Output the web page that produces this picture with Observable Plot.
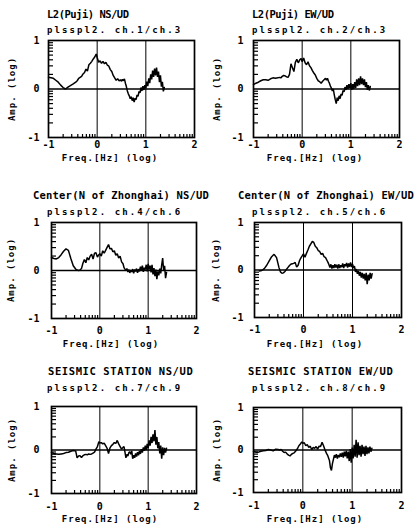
<!DOCTYPE html>
<html><head><meta charset="utf-8">
<script src="https://cdn.jsdelivr.net/npm/d3@7"></script>
<script src="https://cdn.jsdelivr.net/npm/@observablehq/plot@0.6"></script>
<style>
body{margin:0;background:#fff;}
#root{position:relative;width:415px;height:524px;overflow:hidden;background:#fff;font-family:"DejaVu Sans Mono",monospace;color:#000;}
.t{position:absolute;white-space:nowrap;line-height:1;}
.title{font-weight:bold;font-size:10.5px;transform:translateY(-50%);}
.sub{font-size:9px;letter-spacing:2.1px;font-weight:bold;transform:translateY(-50%);}
.xl{font-size:9px;letter-spacing:1px;font-weight:bold;transform:translate(-50%,-50%);}
.yl{font-size:9px;letter-spacing:1px;font-weight:bold;transform:translate(-50%,-50%) rotate(-90deg);}
#root svg{position:absolute;}
</style></head><body><div id="root"></div>
<script>
// log10 frequency sampling positions
const freq = [-1.00,-0.95,-0.90,-0.85,-0.80,-0.75,-0.70,-0.65,-0.60,-0.55,-0.50,
-0.47,-0.44,-0.41,-0.38,-0.35,-0.32,-0.29,-0.26,-0.23,-0.20,-0.17,-0.14,-0.11,-0.08,-0.05,-0.02,
0.00,0.03,0.06,0.09,0.12,0.15,0.18,0.21,0.24,0.27,0.30,0.33,0.36,0.39,0.42,0.45,0.48,
0.50,0.52,0.54,0.56,0.58,0.60,0.62,0.64,0.66,0.68,0.70,0.72,0.74,0.76,0.78,0.80,0.82,0.84,0.86,0.88,0.90,0.92,0.94,0.96,0.98,
1.00,1.02,1.04,1.06,1.08,1.10,1.12,1.14,1.16,1.18,1.20,1.22,1.24,1.26,1.28,1.30,1.32,1.34,1.36,1.38,1.40];

// log10 H/V amplitude ratios
const ampL2NS = [0.24,0.23,0.22,0.18,0.14,0.08,0.03,0.00,0.04,0.07,0.10,
0.12,0.14,0.17,0.22,0.24,0.26,0.31,0.34,0.41,0.37,0.50,0.53,0.57,0.62,0.66,0.72,
0.65,0.55,0.58,0.53,0.57,0.52,0.55,0.49,0.47,0.40,0.36,0.28,0.23,0.18,0.21,0.17,0.19,
0.16,0.20,0.17,0.21,0.12,0.05,-0.04,-0.10,-0.14,-0.20,-0.16,-0.24,-0.18,-0.27,-0.19,-0.22,-0.12,-0.15,-0.05,-0.08,0.03,-0.04,0.06,-0.02,0.08,
0.02,0.15,0.06,0.22,0.12,0.30,0.20,0.38,0.25,0.42,0.28,0.44,0.25,0.36,0.14,0.28,0.05,0.15,-0.05,0.03,null];

const ampL2EW = [0.09,0.12,0.14,0.17,0.19,0.19,0.18,0.21,0.23,0.22,0.23,
0.24,0.23,0.26,0.28,0.27,0.25,0.24,0.30,0.52,0.44,0.36,0.55,0.61,0.54,0.60,0.63,
0.56,0.64,0.54,0.50,0.56,0.48,0.44,0.38,0.33,0.29,0.22,0.17,0.15,0.12,0.16,0.19,0.22,
0.18,0.22,0.16,0.12,0.06,0.02,-0.04,0.00,-0.12,-0.22,-0.30,-0.18,-0.24,-0.14,-0.20,-0.10,-0.13,-0.03,-0.06,0.04,-0.02,0.08,0.00,0.10,0.02,
0.12,-0.02,0.10,0.00,0.14,0.02,0.20,0.06,0.22,0.08,0.26,0.10,0.22,0.08,0.20,0.04,0.14,-0.02,0.08,-0.03,0.05];

const ampCenterNS = [0.27,0.25,0.24,0.27,0.33,0.40,0.45,0.42,0.25,0.10,0.03,
0.01,0.00,0.01,0.04,0.15,0.23,0.16,0.27,0.22,0.30,0.34,0.24,0.36,0.37,0.28,0.33,
0.35,0.30,0.41,0.36,0.42,0.48,0.54,0.45,0.46,0.39,0.41,0.32,0.35,0.26,0.30,0.18,0.14,
0.06,0.03,0.00,0.04,-0.03,0.02,-0.05,0.01,-0.03,0.03,-0.06,0.02,-0.02,0.04,-0.05,0.03,-0.02,0.08,0.00,0.10,-0.03,0.06,0.02,0.12,-0.02,
0.14,0.02,0.10,-0.04,0.12,-0.08,0.05,-0.12,0.02,-0.18,-0.02,-0.10,0.04,-0.06,0.12,0.26,0.00,0.10,-0.16,-0.04,null];

const ampCenterEW = [null,null,-0.02,-0.01,0.03,0.10,0.19,0.28,0.33,0.26,0.05,
-0.04,-0.07,-0.06,-0.03,0.01,0.05,0.09,0.12,0.13,0.14,0.16,0.06,0.10,0.20,0.26,0.31,
0.34,0.27,0.35,0.42,0.50,0.55,0.60,0.58,0.50,0.47,0.41,0.39,0.33,0.35,0.28,0.26,0.20,
0.16,0.11,0.05,0.12,0.03,0.10,0.04,0.12,0.05,0.11,0.03,0.12,0.04,0.10,0.06,0.14,0.04,0.12,0.08,0.15,0.05,0.14,0.07,0.16,0.06,
0.13,0.04,0.08,-0.04,0.02,-0.08,-0.02,-0.12,-0.04,-0.16,-0.06,-0.18,-0.08,-0.22,-0.06,-0.30,-0.10,-0.22,-0.06,-0.18,-0.08];

const ampSeisNS = [-0.06,-0.08,-0.09,-0.10,-0.09,-0.08,-0.06,-0.05,-0.03,-0.01,-0.02,
-0.18,-0.14,-0.13,-0.17,-0.13,-0.11,-0.10,-0.11,-0.09,-0.10,-0.09,-0.07,-0.05,0.02,0.08,0.19,
0.16,0.17,0.14,0.16,0.10,0.04,-0.08,0.05,0.10,0.13,0.17,0.15,0.22,0.14,0.08,0.02,0.06,
0.08,-0.05,-0.18,-0.10,-0.14,-0.06,-0.04,-0.10,-0.02,-0.20,-0.12,-0.18,-0.08,-0.15,-0.05,-0.12,-0.02,-0.09,0.02,-0.06,0.06,-0.02,0.10,0.00,0.14,
0.04,0.22,0.10,0.30,0.16,0.36,0.20,0.46,0.12,0.30,0.04,0.18,-0.08,0.10,-0.20,0.06,-0.12,0.05,-0.06,0.04,null];

const ampSeisEW = [-0.03,-0.05,-0.05,-0.03,-0.02,-0.01,0.01,0.00,-0.02,0.02,0.01,
0.00,0.01,-0.03,-0.06,-0.05,-0.09,-0.12,-0.14,-0.10,-0.08,-0.06,-0.02,0.03,0.10,0.14,0.19,
0.16,0.17,0.10,0.13,0.06,0.09,0.01,0.06,0.04,0.08,0.02,0.09,0.08,0.18,0.10,0.00,-0.08,
-0.12,-0.18,-0.25,-0.42,-0.48,-0.32,-0.22,-0.12,-0.18,-0.10,-0.20,-0.12,-0.17,-0.08,-0.16,-0.06,-0.18,-0.04,-0.15,-0.02,-0.20,-0.04,-0.26,0.02,-0.30,
0.06,-0.20,0.12,-0.16,0.24,-0.18,0.18,-0.12,0.10,-0.16,0.12,-0.10,0.08,-0.14,0.10,-0.10,0.06,-0.08,0.08,-0.04,0.04];

const titles = ["L2(Puji) NS/UD","L2(Puji) EW/UD","Center(N of Zhonghai) NS/UD","Center(N of Zhonghai) EW/UD","SEISMIC STATION NS/UD","SEISMIC STATION EW/UD"];
const subtitles = ["plsspl2. ch.1/ch.3","plsspl2. ch.2/ch.3","plsspl2. ch.4/ch.6","plsspl2. ch.5/ch.6","plsspl2. ch.7/ch.9","plsspl2. ch.8/ch.9"];
const series = [ampL2NS, ampL2EW, ampCenterNS, ampCenterEW, ampSeisNS, ampSeisEW];
const xTicks = [-1, 0, 1, 2];
const yTicks = [-1, 0, 1];
const xLabel = "Freq.[Hz] (log)";
const yLabel = "Amp. (log)";

// layout (pixels): frame box, text positions
const layout = [
  {L:48, R:194, T:40, B:137, tx:47, ty:14, sx:47, sy:29.5, xPad:3, lx:110, ly:157.5, ax:12, tls:-0.5},
  {L:253, R:399, T:40, B:137, tx:252, ty:14, sx:252, sy:29.5, xPad:3, lx:315, ly:157.5, ax:217, tls:-0.5},
  {L:51, R:196, T:222, B:318, tx:33, ty:195, sx:47, sy:211.5, xPad:8, lx:111, ly:343.5, ax:11, tls:0.2},
  {L:254, R:401, T:222, B:317, tx:238, ty:195, sx:252, sy:211.5, xPad:8, lx:315, ly:343.5, ax:216, tls:0.2},
  {L:51, R:196, T:406, B:493, tx:48, ty:371, sx:47, sy:388, xPad:9, lx:110, ly:518.5, ax:12, tls:0.6},
  {L:253, R:401, T:407, B:492, tx:248, ty:371, sx:252, sy:388, xPad:9, lx:315, ly:518.5, ax:217, tls:0.6}
];

const minorX = [], minorY = [];
for (const d of [-1, 0, 1]) for (let k = 2; k <= 9; k++) minorX.push(d + Math.log10(k));
for (const d of [-1, 0]) for (let k = 2; k <= 9; k++) minorY.push(d + Math.log10(k));

const root = document.getElementById("root");
function addText(cls, txt, x, y, extra) {
  const el = document.createElement("div");
  el.className = "t " + cls;
  el.textContent = txt;
  el.style.left = x + "px";
  el.style.top = y + "px";
  if (extra) Object.assign(el.style, extra);
  root.appendChild(el);
}

layout.forEach((p, i) => {
  const w = p.R - p.L, h = p.B - p.T;
  const mL = 48, mT = 4, mR = 8, mB = 30;
  const amp = series[i];
  const data = freq.map((f, j) => ({f, a: amp[j] ?? null}));
  const svg = Plot.plot({
    width: mL + w + mR, height: mT + h + mB,
    marginLeft: mL, marginTop: mT, marginRight: mR, marginBottom: mB,
    style: {fontFamily: '"DejaVu Sans Mono", monospace', fontSize: "10px", fontWeight: "bold", background: "transparent", color: "black"},
    x: {domain: [-1, 2]},
    y: {domain: [-1, 1]},
    marks: [
      Plot.ruleX([0, 1], {stroke: "black", strokeWidth: 1}),
      Plot.ruleY([0], {stroke: "black", strokeWidth: 1.6}),
      Plot.tickY(minorY, {stroke: "black", strokeWidth: 1.2, insetRight: w - 5}),
      Plot.tickX(minorX, {stroke: "black", strokeWidth: 1.2, insetTop: h - 3}),
      Plot.line(data, {x: "f", y: "a", stroke: "black", strokeWidth: 1.5, strokeLinejoin: "miter"}),
      Plot.frame({stroke: "black", strokeWidth: 1.7}),
      Plot.axisX({ticks: xTicks, tickSize: 0, tickPadding: p.xPad, tickFormat: d => String(d), label: null}),
      Plot.axisY({ticks: yTicks, tickSize: 0, tickPadding: p.L - (i % 2 ? 243 : 39), tickFormat: d => String(d), label: null})
    ]
  });
  svg.style.left = (p.L - mL) + "px";
  svg.style.top = (p.T - mT) + "px";
  root.appendChild(svg);
  addText("title", titles[i], p.tx, p.ty, {letterSpacing: p.tls + "px"});
  addText("sub", subtitles[i], p.sx, p.sy);
  addText("xl", xLabel, p.lx, p.ly);
  addText("yl", yLabel, p.ax, (p.T + p.B) / 2);
});
</script>
</body></html>
